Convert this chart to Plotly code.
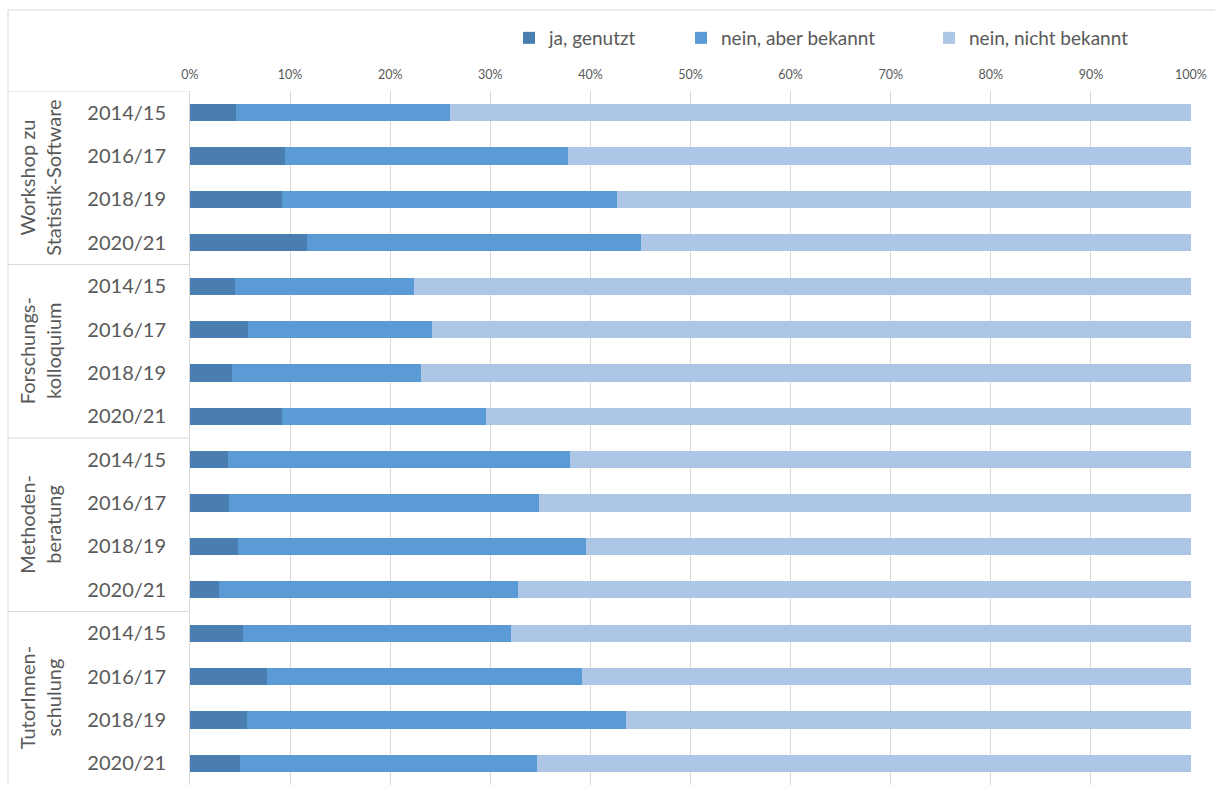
import plotly.graph_objects as go

# Survey results: awareness and use of support offers, per academic year
groups = ["Workshop zu<br>Statistik-Software", "Forschungs-<br>kolloquium",
          "Methoden-<br>beratung", "TutorInnen-<br>schulung"]
years = ["2014/15", "2016/17", "2018/19", "2020/21"]

series_names = ["ja, genutzt", "nein, aber bekannt", "nein, nicht bekannt"]

ja_genutzt = [4.6, 9.5, 9.2, 11.7,
              4.5, 5.8, 4.2, 9.2,
              3.8, 3.9, 4.8, 2.9,
              5.3, 7.7, 5.7, 5.0]
nein_bekannt = [21.4, 28.3, 33.5, 33.4,
                17.9, 18.4, 18.9, 20.4,
                34.2, 31.0, 34.8, 29.9,
                26.8, 31.5, 37.9, 29.7]
nein_nicht_bekannt = [74.0, 62.2, 57.3, 54.9,
                      77.6, 75.8, 76.9, 70.4,
                      62.0, 65.1, 60.4, 67.2,
                      67.9, 60.8, 56.4, 65.3]

colors = ["#4A7EB0", "#5B9BD5", "#ADC6E6"]
text_color = "#595959"
line_color = "#D9D9D9"
font_family = "Lato, 'Open Sans', sans-serif"

W, H = 1215, 785
ML, MR, MT, MB = 190, 24, 91, 0
plot_w = W - ML - MR
plot_h = H - MT - MB

n_rows = len(groups) * len(years)
rows = list(range(n_rows))
row_labels = years * len(groups)


def px_x(px):
    """Pixel x -> paper fraction."""
    return (px - ML) / plot_w


def px_y(py):
    """Pixel y (from top) -> paper fraction."""
    return (H - MB - py) / plot_h


fig = go.Figure()
values = [ja_genutzt, nein_bekannt, nein_nicht_bekannt]
legend_ids = ["legend", "legend2", "legend3"]
for name, vals, col, lg in zip(series_names, values, colors, legend_ids):
    fig.add_trace(go.Bar(
        y=rows, x=vals, name=name, orientation="h",
        marker=dict(color=col, line=dict(width=0)),
        width=0.4, legend=lg,
        hovertemplate="%{x:.1f}%<extra>" + name + "</extra>",
    ))

# Group labels, rotated, left of the year labels
shapes = []
annotations = []
per = len(years)
for gi, g in enumerate(groups):
    center = gi * per + (per - 1) / 2
    annotations.append(dict(
        text=g, xref="paper", yref="y", x=px_x(40), y=center,
        xanchor="center", yanchor="middle", textangle=-90,
        showarrow=False, align="center",
        font=dict(family=font_family, size=20, color=text_color),
    ))
    # separator above each group in the category column
    shapes.append(dict(
        type="line", xref="paper", yref="y",
        x0=px_x(8), x1=0, y0=gi * per - 0.5, y1=gi * per - 0.5,
        line=dict(color=line_color, width=1),
    ))

# Chart area frame (top and left edges)
shapes.append(dict(type="line", xref="paper", yref="paper",
                   x0=px_x(8), x1=px_x(W), y0=px_y(10), y1=px_y(10),
                   line=dict(color=line_color, width=1)))
shapes.append(dict(type="line", xref="paper", yref="paper",
                   x0=px_x(8), x1=px_x(8), y0=px_y(10), y1=px_y(H),
                   line=dict(color=line_color, width=1)))

legend_font = dict(family=font_family, size=19, color=text_color)
legend_lefts = [509, 681, 929]
legend_cfg = {}
for lg, left in zip(legend_ids, legend_lefts):
    legend_cfg[lg] = dict(
        x=px_x(left), y=px_y(38), xanchor="left", yanchor="middle",
        orientation="h", font=legend_font, bgcolor="rgba(0,0,0,0)",
        borderwidth=0,
    )

fig.update_layout(
    width=W, height=H,
    margin=dict(l=ML, r=MR, t=MT, b=MB, pad=0),
    barmode="stack",
    plot_bgcolor="white", paper_bgcolor="white",
    font=dict(family=font_family, color=text_color),
    showlegend=True,
    shapes=shapes, annotations=annotations,
    **legend_cfg,
)

fig.update_xaxes(
    side="top", range=[0, 100], tickvals=list(range(0, 101, 10)),
    ticktext=[f"{v}%" for v in range(0, 101, 10)],
    showgrid=True, gridcolor=line_color, gridwidth=1,
    zeroline=False, showline=False, ticks="",
    ticklabelstandoff=9,
    tickfont=dict(family=font_family, size=12.5, color=text_color),
    fixedrange=True,
)
fig.update_yaxes(
    range=[n_rows - 0.5, -0.5], tickvals=rows, ticktext=row_labels,
    showgrid=False, zeroline=False,
    showline=True, linecolor=line_color, linewidth=1,
    ticks="", ticklabelstandoff=19,
    tickfont=dict(family=font_family, size=20, color=text_color),
    fixedrange=True,
)

fig.write_html("out.html")
